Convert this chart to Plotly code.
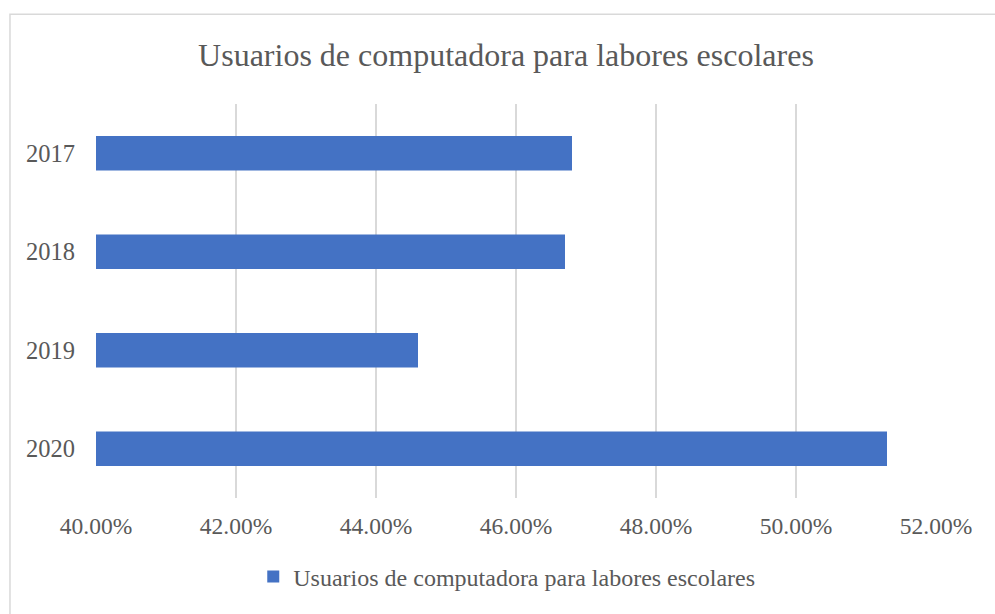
import plotly.graph_objects as go

### Data ###
years = ["2017", "2018", "2019", "2020"]
usuarios = [0.468, 0.467, 0.446, 0.513]
serie = "Usuarios de computadora para labores escolares"

text_color = "#595959"
grid_color = "#D9D9D9"
bar_color = "#4472C4"
font_family = "Liberation Serif, Times New Roman, serif"

fig = go.Figure()
fig.add_trace(go.Bar(x=usuarios
                     , y=years
                     , orientation="h"
                     , name=serie
                     , marker=dict(color=bar_color, line=dict(width=0))
                     , showlegend=True
                     ))

fig.update_layout(width=995
                  , height=614
                  , paper_bgcolor="white"
                  , plot_bgcolor="white"
                  , font=dict(family=font_family, color=text_color, size=24)
                  , margin={"l": 96, "r": 59, "t": 104, "b": 116}
                  , bargap=0.65
                  , title=dict(text=serie
                               , font=dict(size=32, color=text_color)
                               , x=0.5085, xanchor="center"
                               , y=0.91, yanchor="middle")
                  )

fig.update_xaxes(range=[0.40, 0.52]
                 , dtick=0.02
                 , tickformat=".2%"
                 , showgrid=True
                 , gridcolor=grid_color
                 , gridwidth=1.5
                 , zeroline=False
                 , showline=False
                 , ticks=""
                 , ticklabelstandoff=11
                 , tickfont=dict(size=23.5, color=text_color)
                 )
fig.update_yaxes(categoryorder="array"
                 , categoryarray=years
                 , autorange="reversed"
                 , showgrid=False
                 , zeroline=False
                 , showline=False
                 , ticks=""
                 , ticklabelstandoff=20
                 , tickfont=dict(size=24.5, color=text_color)
                 )

fig.update_layout(legend=dict(orientation="h"
                              , yanchor="middle"
                              , y=-0.2
                              , xanchor="center"
                              , x=0.489
                              , font=dict(size=24, color=text_color)
                              , itemwidth=30
                              ))

# outer chart border (cut by the image edge on the right and bottom)
fig.add_shape(type="rect"
              , xref="paper", yref="paper"
              , x0=-0.1024, x1=1.2, y0=-0.5, y1=1.228
              , line=dict(color=grid_color, width=1.5)
              , fillcolor="rgba(0,0,0,0)"
              , layer="below")

# page body has a default 8px margin, drop it so the figure sits at 0,0
fig.write_html("out.html"
               , config={"displayModeBar": False}
               , post_script="document.body.style.margin='0';")
